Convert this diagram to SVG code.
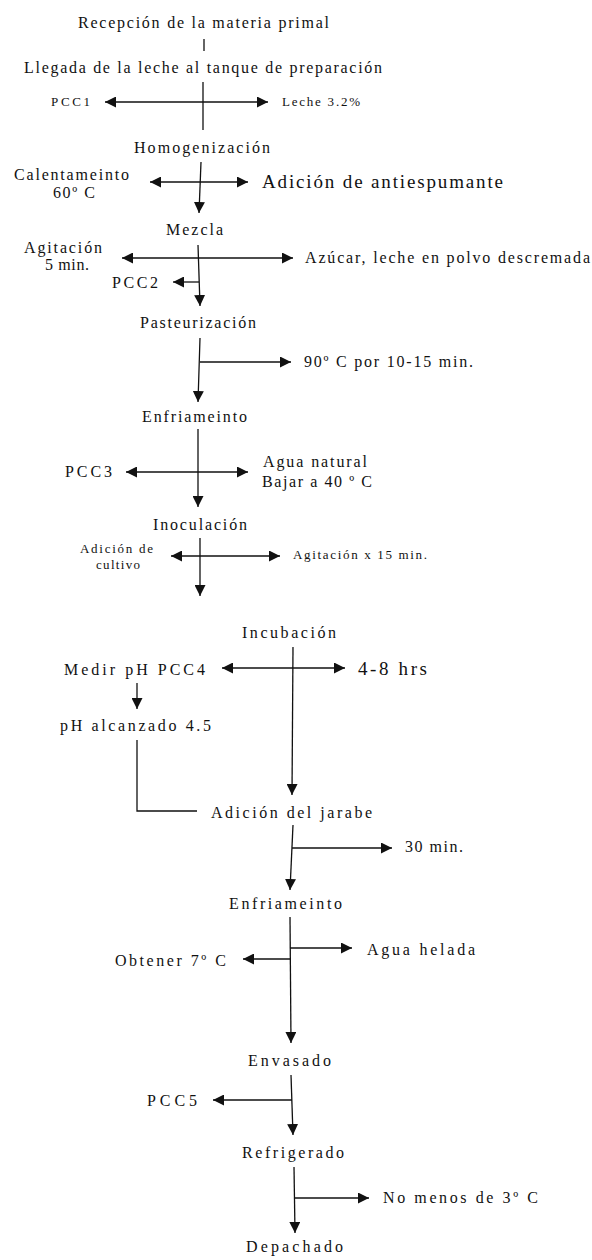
<svg xmlns="http://www.w3.org/2000/svg" width="592" height="1260" viewBox="0 0 592 1260">
  <style>
    text { font-family: "Liberation Serif", "DejaVu Serif", "Times New Roman", serif; fill: #111; }
    .m { font-size: 16px; }
    .s { font-size: 13px; }
    .l { font-size: 19px; }
    .c { fill: none; stroke: #111; stroke-width: 1.3; }
  </style>
  <defs>
    <marker id="ah" viewBox="0 0 11 11" markerUnits="userSpaceOnUse" markerWidth="11" markerHeight="11" refX="11" refY="5.5" orient="auto-start-reverse">
      <path d="M0,0 L11,5.5 L0,11 Z" fill="#111"/>
    </marker>
  </defs>

  <!-- process steps -->
  <g id="recepcion"><text class="m" x="78" y="28" textLength="251" lengthAdjust="spacing">Recepción de la materia primal</text></g>
  <g id="llegada"><text class="m" x="24" y="73" textLength="358" lengthAdjust="spacing">Llegada de la leche al tanque de preparación</text></g>
  <g id="pcc1"><text class="s" x="51" y="106" textLength="39" lengthAdjust="spacing">PCC1</text></g>
  <g id="leche"><text class="s" x="282" y="106" textLength="78" lengthAdjust="spacing">Leche 3.2%</text></g>
  <g id="homogenizacion"><text class="m" x="134" y="153" textLength="136" lengthAdjust="spacing">Homogenización</text></g>
  <g id="calentamiento">
    <text class="m" x="14" y="180" textLength="115" lengthAdjust="spacing">Calentameinto</text>
    <text class="m" x="53" y="198" textLength="42" lengthAdjust="spacing">60º C</text>
  </g>
  <g id="antiespumante"><text class="l" x="262" y="188" textLength="241" lengthAdjust="spacing">Adición de antiespumante</text></g>
  <g id="mezcla"><text class="m" x="166" y="235" textLength="57" lengthAdjust="spacing">Mezcla</text></g>
  <g id="agitacion">
    <text class="m" x="24" y="253" textLength="78" lengthAdjust="spacing">Agitación</text>
    <text class="m" x="45" y="270" textLength="44" lengthAdjust="spacing">5 min.</text>
  </g>
  <g id="azucar"><text class="m" x="305" y="263" textLength="285" lengthAdjust="spacing">Azúcar, leche en polvo descremada</text></g>
  <g id="pcc2"><text class="m" x="112" y="288" textLength="46" lengthAdjust="spacing">PCC2</text></g>
  <g id="pasteurizacion"><text class="m" x="140" y="328" textLength="116" lengthAdjust="spacing">Pasteurización</text></g>
  <g id="temp90"><text class="m" x="304" y="367" textLength="169" lengthAdjust="spacing">90º C por 10-15 min.</text></g>
  <g id="enfriamiento1"><text class="m" x="142" y="422" textLength="105" lengthAdjust="spacing">Enfriameinto</text></g>
  <g id="pcc3"><text class="m" x="65" y="477" textLength="47" lengthAdjust="spacing">PCC3</text></g>
  <g id="agua-natural">
    <text class="m" x="263" y="467" textLength="104" lengthAdjust="spacing">Agua natural</text>
    <text class="m" x="262" y="487" textLength="110" lengthAdjust="spacing">Bajar a 40 º C</text>
  </g>
  <g id="inoculacion"><text class="m" x="153" y="530" textLength="94" lengthAdjust="spacing">Inoculación</text></g>
  <g id="cultivo">
    <text class="s" x="80" y="553" textLength="73" lengthAdjust="spacing">Adición de</text>
    <text class="s" x="96" y="569" textLength="44" lengthAdjust="spacing">cultivo</text>
  </g>
  <g id="agitacion15"><text class="s" x="293" y="559" textLength="134" lengthAdjust="spacing">Agitación x 15 min.</text></g>
  <g id="incubacion"><text class="m" x="242" y="638" textLength="94" lengthAdjust="spacing">Incubación</text></g>
  <g id="medir-ph"><text class="m" x="64" y="675" textLength="141" lengthAdjust="spacing">Medir pH PCC4</text></g>
  <g id="horas"><text class="l" x="358" y="675" textLength="69" lengthAdjust="spacing">4-8 hrs</text></g>
  <g id="ph-alcanzado"><text class="m" x="60" y="731" textLength="151" lengthAdjust="spacing">pH alcanzado 4.5</text></g>
  <g id="jarabe"><text class="m" x="211" y="818" textLength="161" lengthAdjust="spacing">Adición del jarabe</text></g>
  <g id="min30"><text class="m" x="405" y="852" textLength="58" lengthAdjust="spacing">30 min.</text></g>
  <g id="enfriamiento2"><text class="m" x="229" y="909" textLength="113" lengthAdjust="spacing">Enfriameinto</text></g>
  <g id="agua-helada"><text class="m" x="367" y="955" textLength="108" lengthAdjust="spacing">Agua helada</text></g>
  <g id="obtener"><text class="m" x="115" y="966" textLength="111" lengthAdjust="spacing">Obtener 7º C</text></g>
  <g id="envasado"><text class="m" x="248" y="1066" textLength="83" lengthAdjust="spacing">Envasado</text></g>
  <g id="pcc5"><text class="m" x="147" y="1106" textLength="50" lengthAdjust="spacing">PCC5</text></g>
  <g id="refrigerado"><text class="m" x="242" y="1158" textLength="102" lengthAdjust="spacing">Refrigerado</text></g>
  <g id="no-menos"><text class="m" x="383" y="1203" textLength="155" lengthAdjust="spacing">No menos de 3º C</text></g>
  <g id="despachado"><text class="m" x="246" y="1252" textLength="97" lengthAdjust="spacing">Depachado</text></g>

  <!-- connectors -->
  <g id="connectors">
    <line class="c" x1="204" y1="39" x2="204" y2="51"/>

    <line class="c" x1="203" y1="82" x2="203" y2="130"/>
    <line class="c" x1="105" y1="102" x2="268" y2="102" marker-start="url(#ah)" marker-end="url(#ah)"/>

    <line class="c" x1="201" y1="162" x2="199" y2="213" marker-end="url(#ah)"/>
    <line class="c" x1="150" y1="182" x2="248" y2="182" marker-start="url(#ah)" marker-end="url(#ah)"/>

    <line class="c" x1="198" y1="245" x2="200" y2="306" marker-end="url(#ah)"/>
    <line class="c" x1="122" y1="258" x2="293" y2="258" marker-start="url(#ah)" marker-end="url(#ah)"/>
    <line class="c" x1="199" y1="282" x2="173" y2="282" marker-end="url(#ah)"/>

    <line class="c" x1="200" y1="338" x2="198" y2="402" marker-end="url(#ah)"/>
    <line class="c" x1="200" y1="362" x2="291" y2="362" marker-end="url(#ah)"/>

    <line class="c" x1="198" y1="429" x2="198" y2="507" marker-end="url(#ah)"/>
    <line class="c" x1="126" y1="472" x2="248" y2="472" marker-start="url(#ah)" marker-end="url(#ah)"/>

    <line class="c" x1="200" y1="538" x2="200" y2="596" marker-end="url(#ah)"/>
    <line class="c" x1="171" y1="556" x2="280" y2="556" marker-start="url(#ah)" marker-end="url(#ah)"/>

    <line class="c" x1="293" y1="647" x2="292" y2="795" marker-end="url(#ah)"/>
    <line class="c" x1="222" y1="668" x2="345" y2="668" marker-start="url(#ah)" marker-end="url(#ah)"/>

    <line class="c" x1="137" y1="683" x2="137" y2="709" marker-end="url(#ah)"/>
    <polyline class="c" points="137,740 137,811 197,811"/>

    <line class="c" x1="293" y1="825" x2="290" y2="890" marker-end="url(#ah)"/>
    <line class="c" x1="292" y1="848" x2="392" y2="848" marker-end="url(#ah)"/>

    <line class="c" x1="290" y1="917" x2="291" y2="1043" marker-end="url(#ah)"/>
    <line class="c" x1="290" y1="948" x2="352" y2="948" marker-end="url(#ah)"/>
    <line class="c" x1="290" y1="959" x2="243" y2="959" marker-end="url(#ah)"/>

    <line class="c" x1="291" y1="1075" x2="293" y2="1135" marker-end="url(#ah)"/>
    <line class="c" x1="292" y1="1100" x2="213" y2="1100" marker-end="url(#ah)"/>

    <line class="c" x1="294" y1="1167" x2="295" y2="1233" marker-end="url(#ah)"/>
    <line class="c" x1="295" y1="1198" x2="369" y2="1198" marker-end="url(#ah)"/>
  </g>
</svg>
